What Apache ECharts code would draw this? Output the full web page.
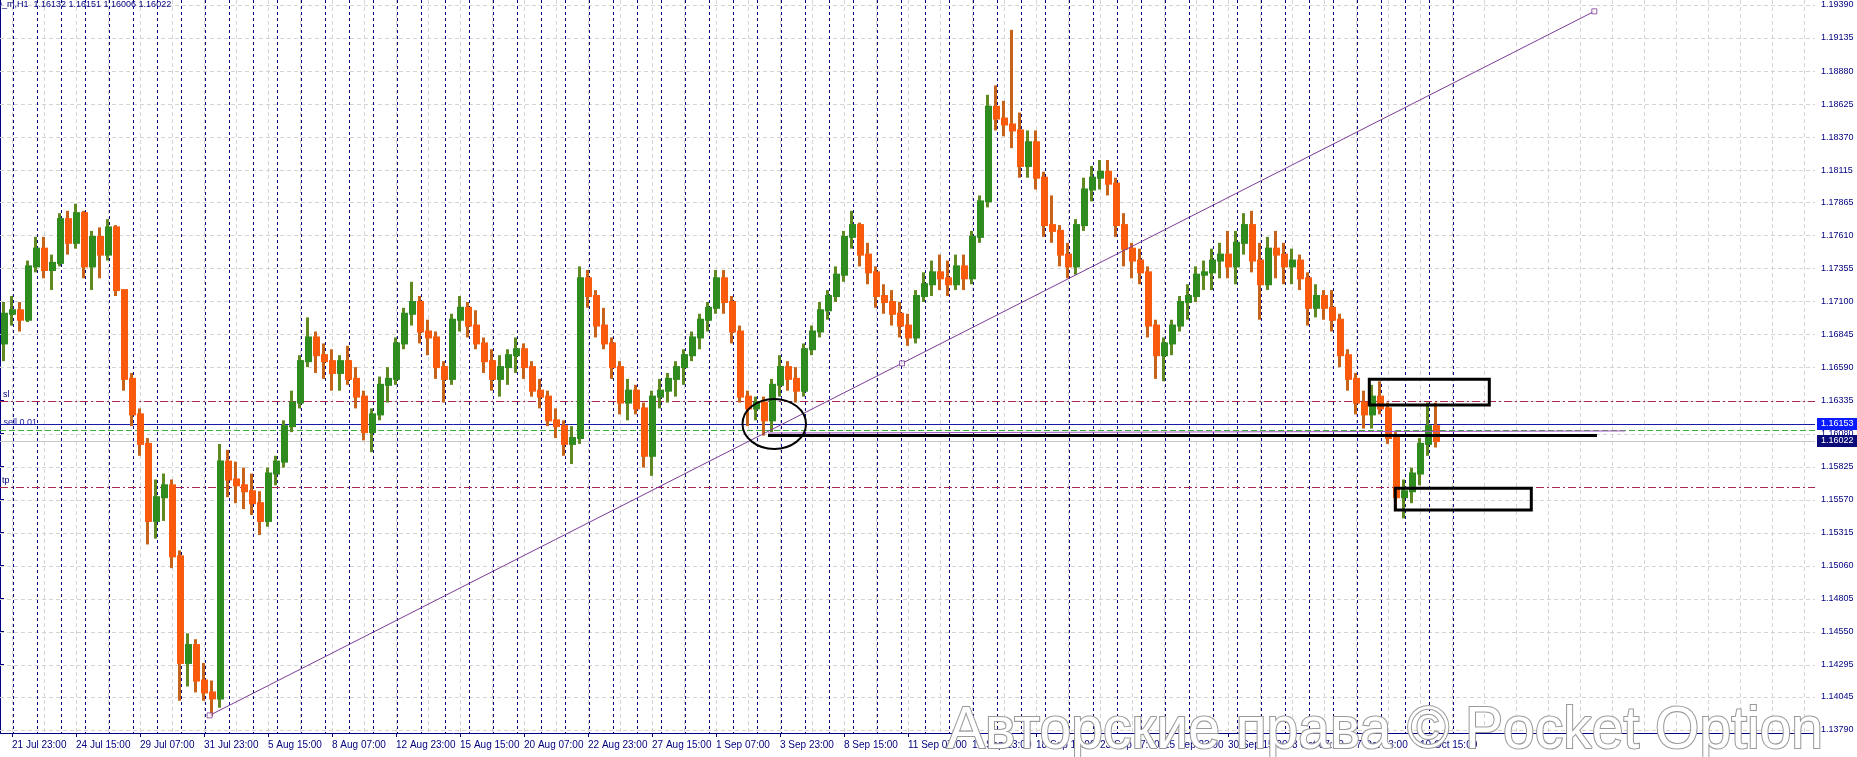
<!DOCTYPE html>
<html><head><meta charset="utf-8">
<script src="https://cdn.jsdelivr.net/npm/echarts@6/dist/echarts.min.js"></script>
<style>html,body{margin:0;padding:0;background:#fff;overflow:hidden}#c{width:1857px;height:757px}</style>
</head><body><div id="c"></div>
<script>
// ---- data ----
const BARS_PER_CANDLE = 8;   // each drawn candle aggregates 8 hourly bars
const candleOpen = [1.16776,1.17005,1.17032,1.16959,1.17371,1.17508,1.17343,1.17398,1.17736,1.17553,
1.17782,1.17371,1.17599,1.17462,1.17672,1.17188,1.16502,1.16228,1.16000,1.15405,
1.15588,1.15680,1.15131,1.14308,1.14446,1.14172,1.14080,1.14034,1.15863,1.15725,
1.15680,1.15634,1.15542,1.15405,1.15771,1.15863,1.16137,1.16319,1.16639,1.16822,
1.16685,1.16639,1.16548,1.16639,1.16502,1.16365,1.16091,1.16228,1.16456,1.16502,
1.16776,1.17005,1.17096,1.16868,1.16822,1.16593,1.16502,1.16959,1.17051,1.16914,
1.16776,1.16639,1.16502,1.16593,1.16685,1.16731,1.16593,1.16411,1.16365,1.16182,
1.16137,1.16000,1.16045,1.17279,1.17142,1.16914,1.16776,1.16593,1.16319,1.16411,
1.16274,1.15908,1.16365,1.16411,1.16502,1.16593,1.16685,1.16822,1.16959,1.17051,
1.17279,1.17096,1.16868,1.16365,1.16274,1.16319,1.16182,1.16456,1.16593,1.16502,
1.16411,1.16731,1.16868,1.17032,1.17142,1.17307,1.17599,1.17690,1.17462,1.17325,
1.17142,1.17096,1.17005,1.16914,1.16822,1.17142,1.17233,1.17325,1.17279,1.17233,
1.17371,1.17279,1.17599,1.17873,1.18604,1.18513,1.18467,1.18421,1.18147,1.18330,
1.18056,1.17690,1.17645,1.17462,1.17371,1.17690,1.17965,1.18056,1.18102,1.18010,
1.17690,1.17508,1.17416,1.17325,1.16914,1.16685,1.16776,1.16914,1.17096,1.17142,
1.17307,1.17325,1.17416,1.17462,1.17371,1.17553,1.17690,1.17416,1.17233,1.17508,
1.17462,1.17371,1.17416,1.17279,1.17051,1.17142,1.17051,1.16959,1.16685,1.16502,
1.16319,1.16228,1.16365,1.16274,1.16045,1.15588,1.15634,1.15771,1.16000,1.16137];
const candleHigh = [1.17096,1.17142,1.17096,1.17416,1.17599,1.17599,1.17462,1.17782,1.17800,1.17855,
1.17800,1.17645,1.17672,1.17736,1.17690,1.17188,1.16548,1.16274,1.16045,1.15725,
1.15771,1.15725,1.15177,1.14537,1.14491,1.14308,1.14172,1.16000,1.15954,1.15863,
1.15817,1.15771,1.15634,1.15817,1.15908,1.16182,1.16411,1.16685,1.16977,1.16868,
1.16776,1.16731,1.16685,1.16758,1.16593,1.16411,1.16274,1.16520,1.16593,1.16822,
1.17051,1.17252,1.17142,1.16959,1.16868,1.16639,1.17005,1.17142,1.17096,1.17032,
1.16822,1.16731,1.16685,1.16731,1.16822,1.16776,1.16639,1.16502,1.16411,1.16274,
1.16182,1.16137,1.17371,1.17343,1.17188,1.17051,1.16822,1.16639,1.16502,1.16456,
1.16319,1.16411,1.16502,1.16548,1.16639,1.16731,1.16868,1.17005,1.17096,1.17343,
1.17343,1.17142,1.16914,1.16411,1.16365,1.16365,1.16502,1.16685,1.16639,1.16593,
1.16776,1.16914,1.17096,1.17188,1.17371,1.17645,1.17800,1.17709,1.17553,1.17371,
1.17233,1.17188,1.17096,1.17005,1.17188,1.17325,1.17416,1.17462,1.17416,1.17462,
1.17462,1.17645,1.17919,1.18696,1.18769,1.18650,1.19198,1.18559,1.18421,1.18421,
1.18102,1.17919,1.17690,1.17553,1.17736,1.18056,1.18147,1.18193,1.18193,1.18056,
1.17782,1.17553,1.17508,1.17371,1.16959,1.16822,1.16959,1.17142,1.17233,1.17371,
1.17416,1.17508,1.17553,1.17645,1.17645,1.17782,1.17800,1.17553,1.17599,1.17645,
1.17553,1.17508,1.17462,1.17325,1.17233,1.17188,1.17188,1.17005,1.16731,1.16548,
1.16411,1.16456,1.16484,1.16319,1.16091,1.15725,1.15817,1.16045,1.16319,1.16319];
const candleLow = [1.16639,1.16914,1.16868,1.16941,1.17325,1.17279,1.17188,1.17371,1.17462,1.17508,
1.17279,1.17188,1.17279,1.17416,1.17142,1.16411,1.16137,1.15908,1.15223,1.15268,
1.15405,1.15040,1.14016,1.14126,1.14080,1.14016,1.13897,1.13961,1.15588,1.15542,
1.15497,1.15451,1.15296,1.15360,1.15680,1.15817,1.16091,1.16274,1.16593,1.16548,
1.16502,1.16411,1.16411,1.16456,1.16274,1.16027,1.15936,1.16182,1.16319,1.16456,
1.16731,1.16914,1.16776,1.16685,1.16502,1.16319,1.16456,1.16868,1.16822,1.16731,
1.16548,1.16411,1.16365,1.16456,1.16548,1.16502,1.16365,1.16274,1.16137,1.16045,
1.15908,1.15844,1.16000,1.17051,1.16822,1.16731,1.16502,1.16228,1.16182,1.16228,
1.15817,1.15753,1.16274,1.16319,1.16365,1.16456,1.16639,1.16731,1.16868,1.17005,
1.17005,1.16776,1.16319,1.16137,1.16182,1.16064,1.16091,1.16365,1.16411,1.16319,
1.16365,1.16685,1.16822,1.16959,1.17096,1.17252,1.17508,1.17371,1.17233,1.17051,
1.17005,1.16914,1.16822,1.16758,1.16776,1.17096,1.17142,1.17188,1.17142,1.17188,
1.17188,1.17233,1.17553,1.17827,1.18421,1.18376,1.18284,1.18056,1.18056,1.17965,
1.17599,1.17553,1.17371,1.17279,1.17307,1.17645,1.17873,1.17965,1.17919,1.17599,
1.17371,1.17279,1.17233,1.16822,1.16502,1.16484,1.16685,1.16868,1.16959,1.17096,
1.17188,1.17188,1.17279,1.17279,1.17233,1.17462,1.17325,1.16959,1.17188,1.17279,
1.17233,1.17233,1.17188,1.16914,1.16977,1.16959,1.16868,1.16593,1.16411,1.16228,
1.16118,1.16118,1.16228,1.16000,1.15497,1.15424,1.15542,1.15680,1.15908,1.15972];
const candleClose = [1.17005,1.17032,1.16959,1.17371,1.17508,1.17343,1.17398,1.17736,1.17553,1.17782,
1.17371,1.17599,1.17462,1.17672,1.17188,1.16502,1.16228,1.16000,1.15405,1.15588,
1.15680,1.15131,1.14308,1.14446,1.14172,1.14080,1.14034,1.15863,1.15725,1.15680,
1.15634,1.15542,1.15405,1.15771,1.15863,1.16137,1.16319,1.16639,1.16822,1.16685,
1.16639,1.16548,1.16639,1.16502,1.16365,1.16091,1.16228,1.16456,1.16502,1.16776,
1.17005,1.17096,1.16868,1.16822,1.16593,1.16502,1.16959,1.17051,1.16914,1.16776,
1.16639,1.16502,1.16593,1.16685,1.16731,1.16593,1.16411,1.16365,1.16182,1.16137,
1.16000,1.16045,1.17279,1.17142,1.16914,1.16776,1.16593,1.16319,1.16411,1.16274,
1.15908,1.16365,1.16411,1.16502,1.16593,1.16685,1.16822,1.16959,1.17051,1.17279,
1.17096,1.16868,1.16365,1.16274,1.16319,1.16182,1.16456,1.16593,1.16502,1.16411,
1.16731,1.16868,1.17032,1.17142,1.17307,1.17599,1.17690,1.17462,1.17325,1.17142,
1.17096,1.17005,1.16914,1.16822,1.17142,1.17233,1.17325,1.17279,1.17233,1.17371,
1.17279,1.17599,1.17873,1.18604,1.18513,1.18467,1.18421,1.18147,1.18330,1.18056,
1.17690,1.17645,1.17462,1.17371,1.17690,1.17965,1.18056,1.18102,1.18010,1.17690,
1.17508,1.17416,1.17325,1.16914,1.16685,1.16776,1.16914,1.17096,1.17142,1.17307,
1.17325,1.17416,1.17462,1.17371,1.17553,1.17690,1.17416,1.17233,1.17508,1.17462,
1.17371,1.17416,1.17279,1.17051,1.17142,1.17051,1.16959,1.16685,1.16502,1.16319,
1.16228,1.16365,1.16274,1.16045,1.15588,1.15634,1.15771,1.16000,1.16137,1.16022];

const yTickLabels = ['1.13790','1.14045','1.14295','1.14550','1.14805','1.15060','1.15315','1.15570','1.15825','1.16080','1.16335','1.16590','1.16845','1.17100','1.17355','1.17610','1.17865','1.18115','1.18370','1.18625','1.18880','1.19135','1.19390'];
const xTickBars = [12,76,140,204,268,332,396,460,524,588,652,716,780,844,908,972,1036,1100,1164,1228,1292,1356,1420];
const xTickLabels = ['21 Jul 23:00','24 Jul 15:00','29 Jul 07:00','31 Jul 23:00','5 Aug 15:00','8 Aug 07:00','12 Aug 23:00','15 Aug 15:00','20 Aug 07:00','22 Aug 23:00','27 Aug 15:00','1 Sep 07:00','3 Sep 23:00','8 Sep 15:00','11 Sep 07:00','15 Sep 23:00','18 Sep 15:00','23 Sep 07:00','25 Sep 23:00','30 Sep 15:00','3 Oct 07:00','7 Oct 23:00','10 Oct 15:00'];

const FIRST_DAY_BAR = 13, DAY_BARS = 24, DAY_COUNT = 61;   // period separators (midnights)
const GRID_FIRST_BAR = 12, GRID_STEP_BARS = 32;

const slPrice = 1.16335, tpPrice = 1.15670, orderPrice = 1.16153, greenLevel = 1.16110, bidPrice = 1.16022;
const trendLine = [[209.6, 1.13903], [1594.3, 1.19341]];
const trendAnchors = [[209.6, 1.13903], [902, 1.16622], [1594.3, 1.19341]];
const thinPurpleLine = [[768, 1.16084], [1625, 1.16100]];
const blackLine = [[768, 1.16065], [1597, 1.16065]];
const ellipseBox = [[742.5, 1.16347, 806, 1.15961]];
const rectBoxes = [[1369.3, 1.16499, 1489.3, 1.16300], [1395.3, 1.15657, 1531.3, 1.15489]];
const titleText = 'EURUSD_m,H1  1.16132 1.16151 1.16006 1.16022';

// ---- chart ----
const PRICE_MIN = 1.137668, PRICE_MAX = 1.194286, BAR_MAX = 1815;
const NAVY = '#000080', FONT = '"Liberation Sans", Arial, sans-serif';
const BULL = '#2f8a1f', BEAR = '#fa5a0c', WICK_UP = '#5f8a22', WICK_DN = '#c8641a';
const yTickValues = yTickLabels.map(Number);

const sepBars = []; for (let k = 0; k < DAY_COUNT; k++) sepBars.push(FIRST_DAY_BAR + k * DAY_BARS);
const gridBars = []; for (let b = GRID_FIRST_BAR; b < BAR_MAX; b += GRID_STEP_BARS) gridBars.push(b);

function hLines(prices, style, z) {
  return { type: 'custom', silent: true, z, clip: false, data: prices.map(p => [0, p]),
    renderItem(params, api) {
      const cs = params.coordSys;
      const y = Math.round(api.coord([0, api.value(1)])[1]) + 0.5;
      return { type: 'line', shape: { x1: cs.x, y1: y, x2: cs.x + cs.width, y2: y }, style: Object.assign({ fill: null }, style) };
    } };
}
function vLines(bars, style, z) {
  return { type: 'custom', silent: true, z, clip: false, data: bars.map(b => [b, PRICE_MIN]),
    renderItem(params, api) {
      const cs = params.coordSys;
      const x = Math.round(api.coord([api.value(0), PRICE_MIN])[0]) + 0.5;
      return { type: 'line', shape: { x1: x, y1: cs.y, x2: x, y2: cs.y + cs.height }, style: Object.assign({ fill: null }, style) };
    } };
}

const candleData = candleOpen.map((o, i) => [i * BARS_PER_CANDLE, o, candleClose[i], candleLow[i], candleHigh[i]]);

const chart = echarts.init(document.getElementById('c'));
chart.setOption({
  animation: false,
  backgroundColor: '#ffffff',
  grid: { left: 0, right: 42, top: 0, bottom: 24, containLabel: false, outerBoundsMode: 'none' },
  xAxis: { type: 'value', min: 0, max: BAR_MAX, position: 'bottom',
    axisLine: { show: true, lineStyle: { color: NAVY, width: 1 } },
    axisTick: { show: true, customValues: xTickBars, length: 4, lineStyle: { color: NAVY } },
    axisLabel: { customValues: xTickBars, color: NAVY, fontSize: 10, fontFamily: FONT, align: 'left', margin: 7,
      formatter: v => { const i = xTickBars.indexOf(Math.round(v)); return i >= 0 ? xTickLabels[i] : ''; } },
    splitLine: { show: false } },
  yAxis: { type: 'value', min: PRICE_MIN, max: PRICE_MAX, position: 'right', scale: true,
    axisLine: { show: true, lineStyle: { color: NAVY, width: 1 } },
    axisTick: { show: true, customValues: yTickValues, length: 4, lineStyle: { color: NAVY } },
    axisLabel: { customValues: yTickValues, color: NAVY, fontSize: 9, fontFamily: FONT, margin: 6,
      formatter: v => { let bi = 0; yTickValues.forEach((t, i) => { if (Math.abs(t - v) < Math.abs(yTickValues[bi] - v)) bi = i; }); return yTickLabels[bi]; } },
    splitLine: { show: false } },
  graphic: [
    { type: 'text', x: -36, y: 5, z: 50, style: { text: titleText, fill: NAVY, font: '9px ' + FONT, align: 'left', verticalAlign: 'middle' } },
    { type: 'text', x: 947, y: 731, scaleX: 0.95, z: 100, silent: true,
      style: { text: 'Авторские права © Pocket Option', font: '60px ' + FONT, fill: '#ffffff', stroke: '#9a9a9a', lineWidth: 2.2, align: 'left', verticalAlign: 'middle' } }
  ],
  series: [
    hLines(yTickValues, { stroke: '#d4d4d4', lineWidth: 1, lineDash: [4, 3] }, 1),
    vLines(gridBars, { stroke: '#d4d4d4', lineWidth: 1, lineDash: [4, 3] }, 1),
    vLines(sepBars, { stroke: NAVY, lineWidth: 1, lineDash: [3, 3] }, 2),
    hLines([bidPrice], { stroke: '#c6c6c6', lineWidth: 1 }, 3),
    hLines([slPrice, tpPrice], { stroke: '#a82850', lineWidth: 1, lineDash: [8, 3, 2, 3] }, 3),
    hLines([greenLevel], { stroke: '#3cae3c', lineWidth: 1, lineDash: [6, 3] }, 3),
    hLines([orderPrice], { stroke: '#1a1aa8', lineWidth: 1 }, 3),
    { type: 'custom', name: 'candles', silent: true, z: 5, clip: true, data: candleData,
      renderItem(params, api) {
        const x0 = api.value(0), o = api.value(1), c = api.value(2), l = api.value(3), h = api.value(4);
        const pt = api.coord([x0, h]), pb = api.coord([x0 + BARS_PER_CANDLE, l]);
        const yo = api.coord([x0, o])[1], yc = api.coord([x0, c])[1];
        const up = c >= o;
        const x = Math.round(pt[0]), w = Math.round(pb[0]) - x;
        const wx = x + Math.round(w / 2) - 2;
        return { type: 'group', children: [
          { type: 'rect', shape: { x: wx, y: pt[1], width: 3, height: Math.max(1, pb[1] - pt[1]) }, style: { fill: up ? WICK_UP : WICK_DN } },
          { type: 'rect', shape: { x: x + 1, y: Math.min(yo, yc) - 1, width: w - 1, height: Math.max(2, Math.abs(yo - yc) + 2) }, style: { fill: up ? BULL : BEAR } }
        ] };
      } },
    { type: 'line', silent: true, z: 8, data: trendLine, symbol: 'none', lineStyle: { color: '#7d3c98', width: 1 } },
    { type: 'scatter', silent: true, z: 9, data: trendAnchors, symbol: 'rect', symbolSize: 5, itemStyle: { color: '#ffffff', borderColor: '#7d3c98', borderWidth: 1 } },
    { type: 'line', silent: true, z: 8, data: thinPurpleLine, symbol: 'none', lineStyle: { color: '#a050c0', width: 1 } },
    { type: 'line', silent: true, z: 9, data: blackLine, symbol: 'none', lineStyle: { color: '#000000', width: 3 } },
    { type: 'custom', silent: true, z: 10, clip: false, data: ellipseBox,
      renderItem(params, api) {
        const a = api.coord([api.value(0), api.value(1)]), b = api.coord([api.value(2), api.value(3)]);
        return { type: 'ellipse', shape: { cx: (a[0] + b[0]) / 2, cy: (a[1] + b[1]) / 2, rx: Math.abs(b[0] - a[0]) / 2, ry: Math.abs(b[1] - a[1]) / 2 },
          style: { fill: null, stroke: '#000', lineWidth: 2 } };
      } },
    { type: 'custom', silent: true, z: 10, clip: false, data: rectBoxes,
      renderItem(params, api) {
        const a = api.coord([api.value(0), api.value(1)]), b = api.coord([api.value(2), api.value(3)]);
        return { type: 'rect', shape: { x: a[0], y: a[1], width: b[0] - a[0], height: b[1] - a[1] }, style: { fill: null, stroke: '#000', lineWidth: 3 } };
      } },
    { type: 'custom', silent: true, z: 11, clip: false,
      data: [[0, slPrice, 0], [0, orderPrice, 1], [0, tpPrice, 2]],
      renderItem(params, api) {
        const texts = ['sl', '5 sell 0.01', 'tp'], xs = [3, -4, 2], dy = [-6, -2, -6], cols = [NAVY, '#1a1aa8', NAVY];
        const k = api.value(2); const y = api.coord([0, api.value(1)])[1];
        return { type: 'text', x: xs[k], y: y + dy[k], style: { text: texts[k], fill: cols[k], font: '9px ' + FONT, align: 'left', verticalAlign: 'middle' } };
      } },
    { type: 'custom', silent: true, z: 12, clip: false,
      data: [[0, orderPrice, 0], [0, bidPrice, 1]],
      renderItem(params, api) {
        const bgs = ['#0a1cff', '#0a0a78'];
        const cs = params.coordSys; const k = api.value(2);
        const p = api.value(1); const y = Math.round(api.coord([0, p])[1]);
        return { type: 'group', children: [
          { type: 'rect', shape: { x: cs.x + cs.width + 2, y: y - 6, width: 40, height: 12 }, style: { fill: bgs[k] } },
          { type: 'text', x: cs.x + cs.width + 6, y: y, style: { text: p.toFixed(5), fill: '#ffffff', font: '9px ' + FONT, align: 'left', verticalAlign: 'middle' } }
        ] };
      } }
  ]
});
</script></body></html>
